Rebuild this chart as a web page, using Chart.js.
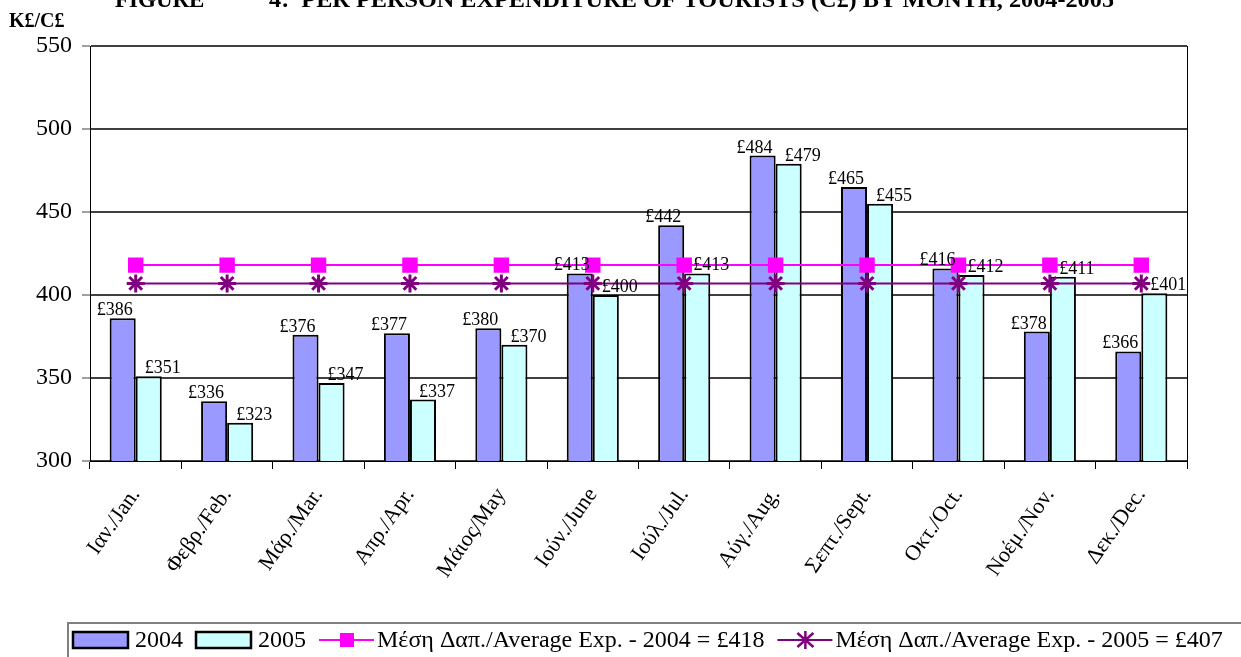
<!DOCTYPE html>
<html>
<head>
<meta charset="utf-8">
<script src="https://cdn.jsdelivr.net/npm/chart.js@4"></script>
<style>
  body { margin: 0; background: #fff; }
  canvas { display: block; }
</style>
</head>
<body>
<canvas id="expChart" width="1241" height="657"></canvas>
<script>
// Per person expenditure of tourists, by month
const months = ['Ιαν./Jan.', 'Φεβρ./Feb.', 'Μάρ./Mar.', 'Απρ./Apr.', 'Μάιος/May', 'Ιούν./June',
    'Ιούλ./Jul.', 'Αύγ./Aug.', 'Σεπτ./Sept.', 'Οκτ./Oct.', 'Νοέμ./Nov.', 'Δεκ./Dec.'];
const exp2004 = [386, 336, 376, 377, 380, 413, 442, 484, 465, 416, 378, 366];
const exp2005 = [351, 323, 347, 337, 370, 400, 413, 479, 455, 412, 411, 401];
const avg2004 = 418;
const avg2005 = 407;
const yTicks = [300, 350, 400, 450, 500, 550];

const seriesNames = ['2004', '2005',
    'Μέση Δαπ./Average Exp. - 2004 = £418',
    'Μέση Δαπ./Average Exp. - 2005 = £407'];
const titleText = 'FIGURE';
const titleText2 = '4:  PER PERSON EXPENDITURE OF TOURISTS (C£) BY MONTH, 2004-2005';
const unitText = 'K£/C£';

const SERIF = "'Liberation Serif', 'Times New Roman', serif";

// value labels above the bars
const barLabels = {
    id: 'barLabels',
    afterDatasetsDraw(chart) {
        const ctx = chart.ctx;
        ctx.save();
        ctx.font = '18px ' + SERIF;
        ctx.fillStyle = '#000';
        ctx.textAlign = 'center';
        ctx.textBaseline = 'alphabetic';
        [0, 1].forEach(function(di) {
            const meta = chart.getDatasetMeta(di);
            const shift = di === 0 ? -8 : 14;
            meta.data.forEach(function(bar, i) {
                const v = chart.data.datasets[di].data[i];
                ctx.fillText('£' + v, bar.x + shift, bar.y - 3);
            });
        });
        ctx.restore();
    }
};

// title, unit, right frame line and the legend box
const decorations = {
    id: 'decorations',
    afterDraw(chart) {
        const ctx = chart.ctx;
        const area = chart.chartArea;
        ctx.save();

        // right border of the plot
        ctx.strokeStyle = '#000';
        ctx.lineWidth = 1;
        ctx.beginPath();
        ctx.moveTo(area.right + 0.5, area.top);
        ctx.lineTo(area.right + 0.5, area.bottom);
        ctx.stroke();

        // title (cut at the top as in the source)
        ctx.fillStyle = '#000';
        ctx.font = 'bold 23px ' + SERIF;
        ctx.textAlign = 'left';
        ctx.textBaseline = 'alphabetic';
        ctx.fillText(titleText, 115, 7);
        const w2 = ctx.measureText(titleText2).width;
        ctx.save();
        ctx.translate(269, 7);
        ctx.scale(845 / w2, 1);
        ctx.fillText(titleText2, 0, 0);
        ctx.restore();

        ctx.font = 'bold 20px ' + SERIF;
        ctx.fillText(unitText, 9, 27);

        // legend
        ctx.strokeStyle = '#808080';
        ctx.lineWidth = 2;
        ctx.strokeRect(68, 623, 1200, 50);

        ctx.font = '24px ' + SERIF;
        ctx.textBaseline = 'middle';
        const cy = 640;
        let x = 73;
        const ds = chart.data.datasets;
        for (let i = 0; i < 4; i++) {
            if (i < 2) {
                ctx.fillStyle = ds[i].backgroundColor;
                ctx.fillRect(x, cy - 8, 55, 16);
                ctx.strokeStyle = '#000';
                ctx.lineWidth = 2.5;
                ctx.strokeRect(x, cy - 8, 55, 16);
                x += 62;
            } else {
                ctx.strokeStyle = ds[i].borderColor;
                ctx.lineWidth = 2;
                ctx.beginPath();
                ctx.moveTo(x, cy);
                ctx.lineTo(x + 55, cy);
                ctx.stroke();
                const mx = x + 28;
                if (i === 2) {
                    ctx.fillStyle = ds[i].pointBackgroundColor;
                    ctx.fillRect(mx - 7, cy - 7, 14, 14);
                } else {
                    ctx.lineWidth = 2.5;
                    ctx.beginPath();
                    ctx.moveTo(mx, cy - 9); ctx.lineTo(mx, cy + 9);
                    ctx.moveTo(mx - 8, cy - 7); ctx.lineTo(mx + 8, cy + 7);
                    ctx.moveTo(mx - 8, cy + 7); ctx.lineTo(mx + 8, cy - 7);
                    ctx.stroke();
                }
                x += 58;
            }
            ctx.fillStyle = '#000';
            ctx.fillText(seriesNames[i], x, cy + 1);
            x += ctx.measureText(seriesNames[i]).width + 13;
        }
        ctx.restore();
    }
};

document.addEventListener('DOMContentLoaded', function() {
    const ctx = document.getElementById('expChart').getContext('2d');

    new Chart(ctx, {
        type: 'bar',
        data: {
            labels: months,
            datasets: [
                {
                    label: seriesNames[0],
                    data: exp2004,
                    backgroundColor: '#9999FF',
                    borderColor: '#000',
                    borderWidth: 2,
                    barPercentage: 1.0,
                    categoryPercentage: 0.57,
                    order: 2
                },
                {
                    label: seriesNames[1],
                    data: exp2005,
                    backgroundColor: '#CCFFFF',
                    borderColor: '#000',
                    borderWidth: 2,
                    barPercentage: 1.0,
                    categoryPercentage: 0.57,
                    order: 2
                },
                {
                    type: 'line',
                    label: seriesNames[2],
                    data: months.map(() => avg2004),
                    borderColor: '#FF00FF',
                    borderWidth: 2,
                    pointStyle: 'rect',
                    pointRadius: 9.5,
                    pointBackgroundColor: '#FF00FF',
                    pointBorderColor: '#FF00FF',
                    fill: false,
                    order: 1
                },
                {
                    type: 'line',
                    label: seriesNames[3],
                    data: months.map(() => avg2005),
                    borderColor: '#800080',
                    borderWidth: 2,
                    pointStyle: 'star',
                    pointRadius: 9,
                    pointBorderWidth: 3,
                    pointBackgroundColor: '#800080',
                    pointBorderColor: '#800080',
                    fill: false,
                    order: 0
                }
            ]
        },
        options: {
            responsive: false,
            animation: false,
            layout: {
                padding: { left: 36, right: 54, top: 46, bottom: 46 }
            },
            plugins: {
                legend: { display: false },
                tooltip: { enabled: false }
            },
            scales: {
                x: {
                    offset: true,
                    grid: {
                        display: true,
                        offset: true,
                        drawOnChartArea: false,
                        drawTicks: true,
                        tickLength: 8,
                        color: '#000',
                        lineWidth: 1
                    },
                    border: { display: true, color: '#000', width: 1 },
                    ticks: {
                        color: '#000',
                        font: { family: SERIF, size: 22 },
                        minRotation: 55,
                        maxRotation: 55,
                        padding: 14,
                        autoSkip: false
                    },
                    afterFit: function(scale) { scale.height = 150; }
                },
                y: {
                    min: 300,
                    max: 550,
                    afterBuildTicks: function(scale) {
                        scale.ticks = yTicks.map(v => ({ value: v }));
                    },
                    grid: {
                        color: '#404040',
                        lineWidth: 2,
                        tickLength: 8,
                        tickColor: '#404040',
                        tickWidth: 1
                    },
                    border: { display: true, color: '#000', width: 1 },
                    ticks: {
                        color: '#000',
                        font: { family: SERIF, size: 24 },
                        padding: 10
                    },
                    afterFit: function(scale) { scale.width = 54; }
                }
            }
        },
        plugins: [barLabels, decorations]
    });
});
</script>
</body>
</html>
